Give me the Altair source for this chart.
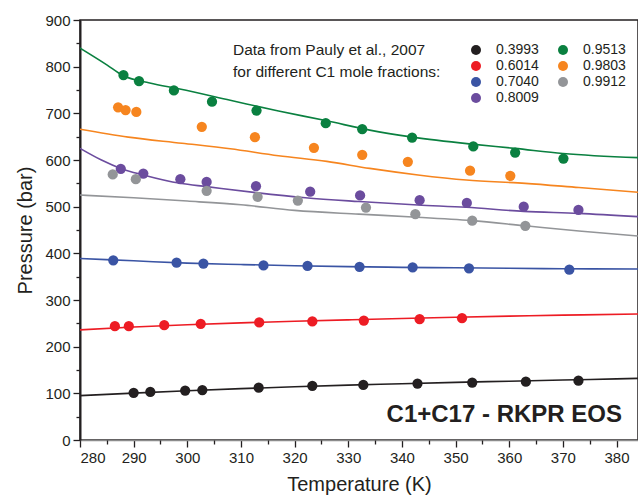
import altair as alt
import pandas as pd

# ---------------- data ----------------
series_names = ["0.3993", "0.6014", "0.7040", "0.8009", "0.9513", "0.9803", "0.9912"]
series_colors = ["#231f20", "#ed1c24", "#3a54a4", "#6b4c9e", "#0a8040", "#f6851f", "#939598"]

# experimental points (T in K, P in bar)
pts_T = {
    "0.3993": [290.0, 293.1, 299.6, 302.8, 313.3, 323.3, 332.8, 342.9, 353.1, 363.1, 372.9],
    "0.6014": [286.5, 289.1, 295.7, 302.5, 313.4, 323.3, 332.9, 343.3, 351.2],
    "0.7040": [286.2, 298.0, 303.0, 314.2, 322.4, 332.1, 342.0, 352.5, 371.2],
    "0.8009": [287.6, 291.8, 298.7, 303.6, 312.8, 322.9, 332.2, 343.3, 352.1, 362.7, 372.9],
    "0.9513": [288.1, 291.0, 297.5, 304.6, 312.9, 325.8, 332.6, 341.9, 353.3, 361.1, 370.1],
    "0.9803": [287.1, 288.5, 290.5, 302.7, 312.6, 323.6, 332.6, 341.1, 352.7, 360.2],
    "0.9912": [286.1, 290.4, 303.6, 313.1, 320.6, 333.3, 342.5, 353.1, 363.0],
}
pts_P = {
    "0.3993": [101, 103, 106, 107, 112, 116, 118, 121, 123, 125, 127],
    "0.6014": [244, 244, 246, 249, 252, 254, 256, 259, 261],
    "0.7040": [385, 380, 378, 374, 373, 371, 370, 368, 365],
    "0.8009": [581, 571, 559, 553, 544, 532, 524, 514, 508, 500, 493],
    "0.9513": [782, 769, 749, 725, 706, 679, 666, 648, 629, 616, 603],
    "0.9803": [713, 707, 703, 671, 649, 626, 611, 596, 577, 566],
    "0.9912": [569, 559, 534, 521, 513, 498, 484, 470, 459],
}

# RKPR EOS model curves (T in K, P in bar)
line_T = {
    "0.3993": [280, 290, 300, 310, 320, 330, 340, 350, 360, 370, 380, 384],
    "0.6014": [280, 290, 300, 310, 320, 330, 340, 350, 360, 370, 384],
    "0.7040": [280, 290, 300, 310, 320, 330, 340, 350, 360, 370, 384],
    "0.8009": [280, 284, 287.6, 291.8, 298.7, 303.6, 312.8, 322, 332, 343, 352, 362.7, 372.9, 384],
    "0.9513": [280, 285, 288, 293, 298.6, 308, 317, 326, 334, 342, 353, 361, 370, 384],
    "0.9803": [280, 289, 299, 308, 317, 326, 334, 343, 352, 363, 373, 384],
    "0.9912": [280, 290, 300, 310, 320, 332, 342, 353, 363, 373, 384],
}
line_P = {
    "0.3993": [95, 100.5, 105.5, 110, 114, 117.5, 120.5, 123.5, 126, 128.5, 131, 132],
    "0.6014": [236, 242, 247, 251, 254.5, 257.5, 260.5, 263, 265.5, 267.5, 270],
    "0.7040": [389, 384, 379, 376, 373.5, 371.5, 370, 369, 368, 367, 366.5],
    "0.8009": [625, 600, 582, 568, 550, 543, 530, 519, 511, 503.6, 498.6, 490, 485.7, 478.6],
    "0.9513": [840, 804, 781, 765, 752, 728, 705, 684, 664, 649, 634, 625, 614, 605],
    "0.9803": [666, 649, 636, 624, 609, 597, 582, 568, 557, 550, 541, 531],
    "0.9912": [525, 519, 512, 504, 492, 484, 478, 470, 459, 448, 437],
}

legend_title = ["Data from Pauly et al., 2007", "for different C1 mole fractions:"]
annotation = "C1+C17 - RKPR EOS"
x_major = list(range(280, 381, 10))
x_minor = list(range(285, 385, 10))
y_major = list(range(0, 901, 100))
y_minor = list(range(50, 900, 100))

pts_df = pd.DataFrame(
    [{"series": s, "T": t, "P": p} for s in series_names for t, p in zip(pts_T[s], pts_P[s])]
)
line_df = pd.DataFrame(
    [{"series": s, "T": t, "P": p, "i": i}
     for s in series_names for i, (t, p) in enumerate(zip(line_T[s], line_P[s]))]
)

FONT = "Liberation Sans"
TXT = "#231f20"

x_scale = alt.Scale(domain=[280, 384], nice=False, zero=False)
y_scale = alt.Scale(domain=[0, 900], nice=False)
color_scale = alt.Scale(domain=series_names, range=series_colors)

legend = alt.Legend(
    title=legend_title,
    orient="none",
    legendX=153,
    legendY=23,
    columns=2,
    direction="vertical",
    titleOrient="left",
    titleAnchor="start",
    titleBaseline="top",
    titleFontSize=15.5,
    titleFontWeight="normal",
    titleFont=FONT,
    titleColor=TXT,
    titleLineHeight=21.5,
    titlePadding=28,
    titleLimit=400,
    labelFontSize=14,
    labelFont=FONT,
    labelColor=TXT,
    symbolType="circle",
    symbolSize=100,
    symbolStrokeWidth=0,
    symbolOpacity=1,
    rowPadding=2,
    columnPadding=17,
    labelOffset=13,
)

x_axis_major = alt.Axis(
    title="Temperature (K)", values=x_major, tickSize=7, ticks=True, grid=False,
    domainColor="#8c8c8c", domainWidth=1.5, tickColor=TXT, tickWidth=1.3,
    labelPadding=3, titlePadding=9, orient="bottom",
)
x_axis_minor = alt.Axis(
    title=None, values=x_minor, tickSize=4, ticks=True, labels=False, grid=False,
    domain=False, tickColor=TXT, tickWidth=1.3, orient="bottom",
)
y_axis_major = alt.Axis(
    title="Pressure (bar)", values=y_major, tickSize=7, ticks=True, grid=False,
    domainColor=TXT, domainWidth=2, tickColor=TXT, tickWidth=1.3,
    labelPadding=3, titlePadding=9, orient="left",
)
y_axis_minor = alt.Axis(
    title=None, values=y_minor, tickSize=4, ticks=True, labels=False, grid=False,
    domain=False, tickColor=TXT, tickWidth=1.3, orient="left",
)

lines = alt.Chart(line_df).mark_line(strokeWidth=1.6, interpolate="monotone", clip=True).encode(
    x=alt.X("T:Q", scale=x_scale, axis=x_axis_major),
    y=alt.Y("P:Q", scale=y_scale, axis=y_axis_major),
    color=alt.Color("series:N", scale=color_scale, legend=legend),
    detail="series:N",
    order="i:Q",
)

points = alt.Chart(pts_df).mark_circle(size=105, opacity=1, clip=True).encode(
    x=alt.X("T:Q", scale=x_scale, axis=x_axis_minor),
    y=alt.Y("P:Q", scale=y_scale, axis=y_axis_minor),
    color=alt.Color("series:N", scale=color_scale, legend=legend),
)

ann_df = pd.DataFrame({"label": [annotation]})
ann = alt.Chart(ann_df).mark_text(
    align="right", baseline="middle", font=FONT, fontSize=24, fontWeight="bold", color=TXT
).encode(x=alt.value(542), y=alt.value(395), text="label:N")

chart = (
    alt.layer(lines, points, ann)
    .resolve_axis(x="independent", y="independent")
    .resolve_scale(x="shared", y="shared", color="shared")
    .properties(
        width=558,
        height=420,
        autosize=alt.AutoSizeParams(type="none"),
        padding={"left": 80, "top": 20, "right": 0, "bottom": 61},
        background="white",
    )
    .configure_view(stroke=TXT, strokeWidth=1.5)
    .configure_axis(
        labelFont=FONT,
        labelFontSize=15,
        labelColor=TXT,
        titleFont=FONT,
        titleFontSize=20,
        titleFontWeight="normal",
        titleColor=TXT,
    )
)

chart.save("out.html", embed_options={"renderer": "svg", "actions": False})
